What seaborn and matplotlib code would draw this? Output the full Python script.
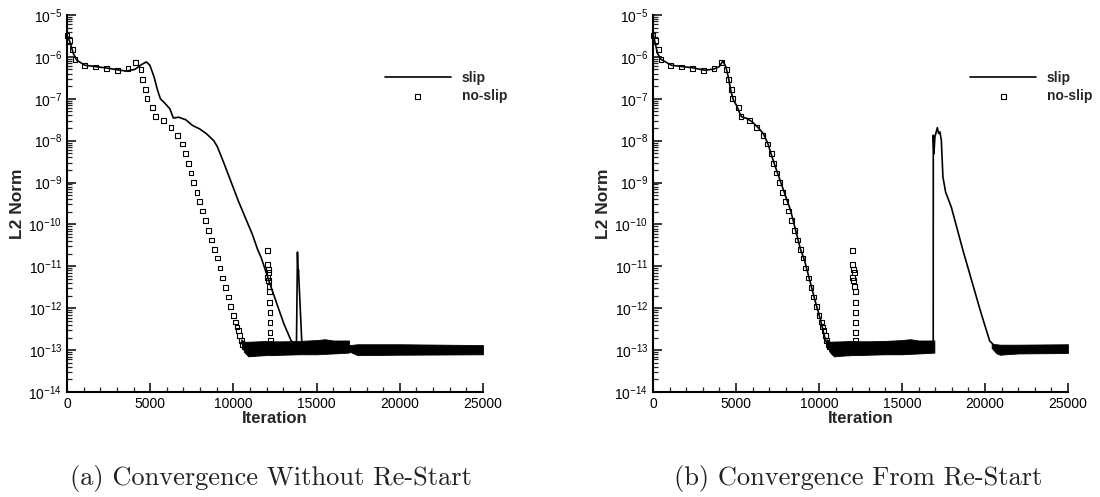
import numpy as np
import matplotlib
matplotlib.use("Agg")
import matplotlib.pyplot as plt
from matplotlib.ticker import LogLocator, MultipleLocator, NullFormatter
import seaborn as sns

# ---------------- data (log10 of L2 norm) ----------------
noslip_it = [0, 169, 338, 485, 1076, 1709, 2384, 3038, 3671, 4136, 4452, 4558, 4705,
             4811, 5127, 5296, 5803, 6246, 6625, 6921, 7132, 7280, 7448, 7617, 7807,
             7976, 8145, 8335, 8524, 8693, 8862, 9031, 9200, 9368, 9516, 9685, 9833,
             10001, 10128, 10212, 10297, 10381, 10466, 10550, 10650,
             12042, 12042, 12102, 12142, 12042, 12102, 12142, 12182, 12182, 12202,
             12202, 12202, 12222]
noslip_log10 = [-5.49, -5.60, -5.82, -6.06, -6.20, -6.24, -6.28, -6.32, -6.28, -6.13,
                -6.30, -6.54, -6.78, -7.00, -7.20, -7.43, -7.51, -7.68, -7.87, -8.08,
                -8.31, -8.54, -8.77, -9.00, -9.23, -9.45, -9.68, -9.91, -10.14, -10.37,
                -10.59, -10.80, -11.04, -11.28, -11.50, -11.73, -11.96, -12.17, -12.33,
                -12.45, -12.54, -12.66, -12.78, -12.86, -12.92,
                -10.62, -10.96, -11.08, -11.14, -11.26, -11.34, -11.48, -11.60, -11.86,
                -12.10, -12.34, -12.58, -12.78]

# converged "floor" band of no-slip (upper / lower envelope)
noslip_band_it = [10470, 10650, 10900, 11500, 12000, 12500, 13000, 14000, 15000, 15500, 16000, 16950]
noslip_band_hi = [-12.74, -12.80, -12.80, -12.79, -12.78, -12.79, -12.79, -12.78, -12.76, -12.74, -12.77, -12.77]
noslip_band_lo = [-12.82, -13.05, -13.15, -13.13, -13.12, -13.12, -13.11, -13.10, -13.10, -13.09, -13.08, -13.06]

# (a) slip, without restart
slipA_it = [0, 170, 380, 590, 1076, 2280, 3545, 4070, 4495, 4770, 4980, 5233, 5444,
            5613, 5866, 6182, 6393, 6710, 7132, 7554, 7976, 8398, 8820, 9031, 9453,
            9875, 10297, 10719, 11141, 11457, 11668, 12196, 12618, 13040, 13462, 13673,
            13790, 13850, 13885, 13910, 14110]
slipA_log10 = [-5.48, -5.64, -5.92, -6.08, -6.20, -6.26, -6.34, -6.30, -6.18, -6.12,
               -6.20, -6.48, -6.80, -7.00, -7.10, -7.24, -7.46, -7.44, -7.50, -7.64,
               -7.72, -7.84, -8.00, -8.14, -8.56, -9.00, -9.44, -9.84, -10.24, -10.60,
               -10.79, -11.42, -11.90, -12.38, -12.77, -12.85,
               -12.85, -10.66, -11.15, -11.08, -12.80]
slipA_band_it = [13600, 14100, 15000, 16000, 17000, 17450, 20000, 25000]
slipA_band_hi = [-12.84, -12.82, -12.80, -12.82, -12.88, -12.86, -12.86, -12.88]
slipA_band_lo = [-12.95, -13.05, -13.06, -13.06, -13.04, -13.12, -13.11, -13.10]

# (b) slip, from restart
slipB_it = [0, 274, 485, 1118, 2384, 3123, 3650, 3967, 4220, 4389, 4537, 4705, 4853,
            5022, 5233, 5338, 5655, 5971, 6288, 6646, 6921, 7237, 7659, 8292, 8883,
            9136, 9769, 10086, 10297, 10508,
            16880, 16885, 16923, 16983, 17128, 17206, 17285, 17369, 17466, 17629,
            17973, 18673, 19720, 20280, 20690]
slipB_log10 = [-5.44, -5.92, -6.06, -6.20, -6.26, -6.32, -6.29, -6.24, -6.10, -6.24,
               -6.48, -6.84, -7.04, -7.15, -7.35, -7.43, -7.47, -7.55, -7.67, -7.83,
               -8.07, -8.47, -8.95, -9.67, -10.59, -10.87, -11.83, -12.27, -12.62, -12.90,
               -12.90, -7.87, -8.31, -7.91, -7.69, -7.83, -7.79, -7.99, -8.87, -9.23,
               -9.59, -10.62, -12.06, -12.78, -12.94]
slipB_band1_it = [10500, 10800, 12000, 14000, 15000, 15500, 16000, 16880]
slipB_band1_hi = [-12.85, -12.80, -12.80, -12.80, -12.78, -12.76, -12.79, -12.79]
slipB_band1_lo = [-12.95, -13.10, -13.09, -13.08, -13.08, -13.07, -13.06, -13.05]
slipB_band2_it = [20400, 20700, 20900, 22000, 25000]
slipB_band2_hi = [-12.85, -12.86, -12.87, -12.87, -12.86]
slipB_band2_lo = [-12.95, -13.08, -13.11, -13.08, -13.07]

x_ticks = [0, 5000, 10000, 15000, 20000, 25000]
captions = ["(a) Convergence Without Re-Start", "(b) Convergence From Re-Start"]

# ---------------- style ----------------
sns.set_theme(style="white")
plt.rcParams["font.family"] = ["Liberation Sans", "DejaVu Sans"]
plt.rcParams["mathtext.default"] = "regular"

W, H = 1100, 497
fig = plt.figure(figsize=(W / 100, H / 100), dpi=100)
fig.patch.set_facecolor("white")

def px_axes(x0, x1, ytop, ybot):
    return fig.add_axes([x0 / W, 1 - ybot / H, (x1 - x0) / W, (ybot - ytop) / H])

axA = px_axes(67, 483, 15, 392)
axB = px_axes(653, 1068, 15, 392)

def p(v):
    return 10 ** np.asarray(v, dtype=float)

panels = [
    (axA, slipA_it, slipA_log10, [(slipA_band_it, slipA_band_hi, slipA_band_lo)]),
    (axB, slipB_it, slipB_log10, [(slipB_band1_it, slipB_band1_hi, slipB_band1_lo),
                                  (slipB_band2_it, slipB_band2_hi, slipB_band2_lo)]),
]

for i, (ax, s_it, s_log, bands) in enumerate(panels):
    ax.set_facecolor("white")
    # converged floor bands
    ax.fill_between(noslip_band_it, p(noslip_band_lo), p(noslip_band_hi),
                    color="black", linewidth=0.6, edgecolor="black")
    for b_it, b_hi, b_lo in bands:
        ax.fill_between(b_it, p(b_lo), p(b_hi), color="black", linewidth=0.6, edgecolor="black")
    sns.lineplot(x=s_it, y=p(s_log), ax=ax, color="black", linewidth=1.2,
                 estimator=None, sort=False, label="slip")
    sns.scatterplot(x=noslip_it, y=p(noslip_log10), ax=ax, marker="s", s=12,
                    label="no-slip", clip_on=False)
    coll = ax.collections[-1]
    coll.set_facecolor("none")
    coll.set_edgecolor("black")
    coll.set_linewidth(0.8)

    ax.set_yscale("log")
    ax.set_xlim(0, 25000)
    ax.set_ylim(1e-14, 1e-5)
    ax.set_xticks(x_ticks)
    ax.set_xticklabels([str(t) for t in x_ticks])
    ax.xaxis.set_minor_locator(MultipleLocator(1000))
    ax.yaxis.set_major_locator(LogLocator(base=10, numticks=20))
    ax.yaxis.set_minor_locator(LogLocator(base=10, subs=np.arange(2, 10), numticks=200))
    ax.yaxis.set_minor_formatter(NullFormatter())
    ax.tick_params(which="major", direction="in", length=6.5, width=1.1, pad=3.5,
                   labelsize=10, colors="black", left=True, bottom=True)
    ax.tick_params(which="minor", direction="in", length=3.5, width=0.9,
                   left=True, bottom=True)
    for side in ["top", "right"]:
        ax.spines[side].set_visible(False)
    for side in ["left", "bottom"]:
        ax.spines[side].set_linewidth(1.5)
        ax.spines[side].set_color("black")

    ax.set_xlabel("Iteration", fontsize=12, fontweight="bold")
    ax.xaxis.set_label_coords(0.5, -0.0716)
    ax.xaxis.label.set_va("center")
    ax.set_ylabel("L2 Norm", fontsize=12.5, fontweight="bold")
    ax.yaxis.set_label_coords((17.5 - 67) / 416, 0.5)
    ax.yaxis.label.set_va("center")

    ax.legend(loc="center left", bbox_to_anchor=(0.765, 0.809), frameon=False,
              borderpad=0, borderaxespad=0, handlelength=4.7, handletextpad=0.8,
              labelspacing=0.3, prop={"weight": "bold", "size": 10})

    cx = [271, 858][i]
    fig.text(cx / W, 1 - 478 / H, captions[i], family="cmr10", fontsize=19,
             ha="center", va="center", color="#222222")

fig.savefig("out.png", dpi=100, facecolor="white")
